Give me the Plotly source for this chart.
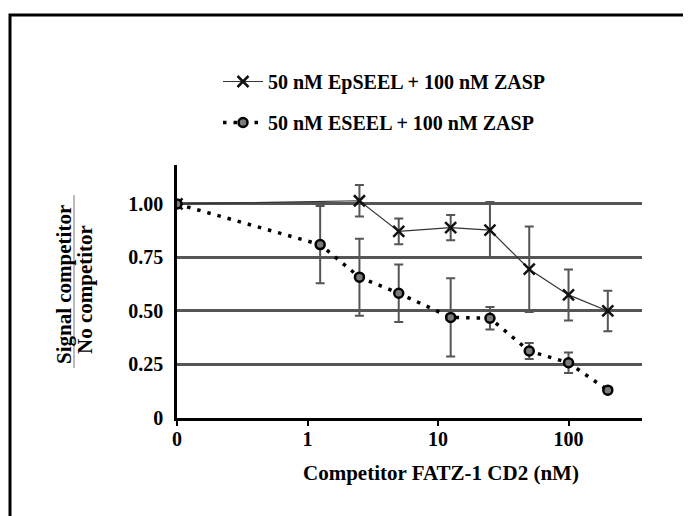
import plotly.graph_objects as go

# ---- data ----
conc_ep = [0, 2.5, 5, 12.5, 25, 50, 100, 200]
ratio_ep = [1.00, 1.015, 0.872, 0.889, 0.878, 0.695, 0.575, 0.50]
err_ep = [0, 0.074, 0.06, 0.059, 0.131, 0.20, 0.119, 0.095]

conc_e = [0, 1.25, 2.5, 5, 12.5, 25, 50, 100, 200]
ratio_e = [1.00, 0.81, 0.658, 0.583, 0.47, 0.466, 0.313, 0.258, 0.13]
err_e = [0, 0.18, 0.18, 0.134, 0.183, 0.053, 0.037, 0.048, 0.012]

x_tick_vals = [0, 1, 10, 100]
x_tick_text = ["0", "1", "10", "100"]
y_tick_vals = [0, 0.25, 0.5, 0.75, 1.0]
y_tick_text = ["0", "0.25", "0.50", "0.75", "1.00"]

name_ep = "50 nM EpSEEL + 100 nM ZASP"
name_e = "50 nM ESEEL + 100 nM ZASP"

ZERO_POS = 0.1  # the "0" concentration sits one decade left of 1 on the log axis


def pos(c):
    return [v if v > 0 else ZERO_POS for v in c]


FONT = "Liberation Serif, Times New Roman, serif"
OFF = 8                      # page body margin in the browser
W, H = 691 - OFF, 516 - OFF  # figure size
# plot area in screenshot pixels: x 177..642, y 165..418
L, T = 177 - OFF, 165 - OFF
R, B = W - (642 - OFF), H - (418 - OFF)
PW, PH = W - L - R, H - T - B


def px_x(x):  # screenshot px -> paper
    return (x - OFF - L) / PW


def px_y(y):
    return (H - B - (y - OFF)) / PH


fig = go.Figure()

fig.add_trace(go.Scatter(
    x=pos(conc_ep), y=ratio_ep, name=name_ep, legendgroup="a",
    mode="lines+markers",
    line=dict(color="#333333", width=1.2),
    marker=dict(symbol="x-thin", size=11, line=dict(color="#111111", width=2.5)),
    error_y=dict(type="data", array=err_ep, visible=True, color="#555555",
                 thickness=2, width=4.5),
))

fig.add_trace(go.Scatter(
    x=pos(conc_e), y=ratio_e, name=name_e, legendgroup="b",
    mode="lines+markers",
    line=dict(color="#000000", width=3.5, dash="3.5px,7px"),
    marker=dict(symbol="circle", size=9, color="#7a7a7a",
                line=dict(color="#000000", width=2.5)),
    error_y=dict(type="data", array=err_e, visible=True, color="#555555",
                 thickness=2, width=4.5),
))

fig.update_layout(
    width=W, height=H,
    margin=dict(l=L, r=R, t=T, b=B, autoexpand=False),
    paper_bgcolor="white", plot_bgcolor="white",
    font=dict(family=FONT, size=18, color="#000000", weight="bold"),
    showlegend=True,
    legend=dict(
        x=px_x(218), y=px_y(62), xanchor="left", yanchor="top",
        font=dict(family=FONT, size=20, color="#000000", weight="bold"),
        traceorder="grouped", tracegroupgap=12,
        bgcolor="rgba(0,0,0,0)", itemwidth=40,
    ),
    xaxis=dict(
        type="log", range=[-1, 2.563],
        tickvals=[v if v > 0 else ZERO_POS for v in x_tick_vals],
        ticktext=x_tick_text,
        showgrid=False, zeroline=False,
        showline=True, linecolor="#000000", linewidth=2.5,
        ticks="outside", ticklen=5, tickwidth=2, tickcolor="#000000",
        ticklabelstandoff=-4,
        tickfont=dict(family=FONT, size=20, weight="bold"),
    ),
    yaxis=dict(
        range=[0, 1.182],
        tickvals=y_tick_vals, ticktext=y_tick_text,
        showgrid=True, gridcolor="#555555", gridwidth=2.5,
        zeroline=False,
        showline=True, linecolor="#000000", linewidth=2.5,
        ticks="", ticklabelstandoff=7,
        tickfont=dict(family=FONT, size=20, weight="bold"),
    ),
    annotations=[
        dict(text="Competitor FATZ-1 CD2 (nM)", xref="paper", yref="paper",
             x=px_x(441), y=px_y(473), xanchor="center", yanchor="middle",
             showarrow=False, font=dict(family=FONT, size=21, weight="bold")),
        dict(text="Signal competitor", xref="paper", yref="paper",
             x=px_x(64), y=px_y(285), xanchor="center", yanchor="middle",
             textangle=-90, showarrow=False,
             font=dict(family=FONT, size=21, weight="bold")),
        dict(text="No competitor", xref="paper", yref="paper",
             x=px_x(85), y=px_y(290), xanchor="center", yanchor="middle",
             textangle=-90, showarrow=False,
             font=dict(family=FONT, size=21, weight="bold")),
    ],
    shapes=[
        dict(type="line", xref="paper", yref="paper",
             x0=px_x(74), x1=px_x(74), y0=px_y(368), y1=px_y(195),
             line=dict(color="#777777", width=1)),
        dict(type="rect", xref="paper", yref="paper",
             x0=px_x(10), x1=px_x(685), y0=px_y(540), y1=px_y(15),
             line=dict(color="#000000", width=3), fillcolor="rgba(0,0,0,0)"),
    ],
)

fig.write_html("out.html")
